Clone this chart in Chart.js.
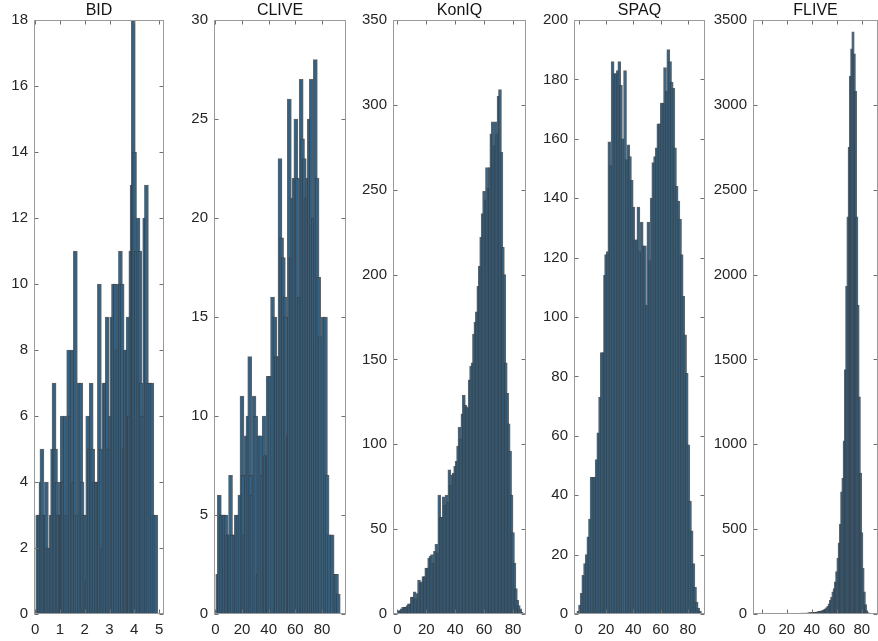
<!DOCTYPE html>
<html>
<head>
<meta charset="utf-8">
<script src="https://cdn.jsdelivr.net/npm/chart.js@4"></script>
<style>
  html, body { margin: 0; padding: 0; background: #fff; }
  #wrap { position: relative; width: 878px; height: 641px; overflow: hidden; }
  canvas { position: absolute; top: 0; }
</style>
</head>
<body>
<div id="wrap"></div>
<script>
// histogram data: bin centres + counts per dataset
const bidBins = [0.10,0.17,0.23,0.27,0.34,0.40,0.45,0.51,0.58,0.64,0.70,0.76,0.82,0.88,0.94,1.00,1.05,1.09,1.14,1.21,1.27,1.35,1.42,1.49,1.55,1.62,1.69,1.77,1.84,1.89,1.96,2.03,2.08,2.12,2.19,2.26,2.32,2.39,2.47,2.53,2.59,2.66,2.72,2.77,2.84,2.91,2.97,3.04,3.10,3.16,3.23,3.30,3.37,3.44,3.51,3.58,3.64,3.70,3.75,3.80,3.86,3.91,3.96,4.01,4.08,4.15,4.22,4.28,4.34,4.42,4.49,4.55,4.63,4.71,4.79,4.87];
const bidCounts = [3,3,4,5,3,3,4,2,2,3,5,7,5,4,3,3,4,6,4,6,3,8,6,8,4,11,3,7,7,4,3,3,1,6,5,7,5,4,4,4,10,5,2,7,7,9,5,6,9,10,10,8,10,11,10,5,8,8,9,6,11,13,18,14,11,12,11,7,6,12,13,7,7,7,3,3];

const cliveBins = [1.8,3.0,4.3,5.6,6.8,8.1,9.3,10.4,11.4,12.6,14.4,15.7,16.9,18.4,20.0,20.7,22.0,23.2,24.5,25.8,26.5,27.5,29.0,30.3,32.0,32.6,34.0,35.4,36.6,37.6,38.9,39.6,40.9,42.9,44.7,45.7,47.2,48.5,49.7,51.0,52.3,53.0,54.8,55.5,56.8,58.0,59.0,60.4,61.6,62.9,64.4,65.4,66.7,67.9,69.2,70.5,72.0,73.5,75.0,76.3,77.5,78.8,80.6,82.6,83.8,85.6,87.6,89.6,90.9,92.2];
const cliveCounts = [2,6,5,5,5,5,4,4,7,4,4,5,5,6,11,7,4,9,10,13,7,6,11,10,2,9,9,7,10,8,8,12,12,16,15,13,13,23,19,18,16,15,9,26,18,21,22,25,22,16,27,24,23,21,22,25,27,20,28,22,17,14,15,15,7,4,4,2,2,1];

const koniqBins = [1,2,3,4,5,6,7,8,9,10,11,12,13,14,15,16,17,18,19,20,21,22,23,24,25,26,27,28,29,30,31,32,33,34,35,36,37,38,39,40,41,42,43,44,45,46,47,48,49,50,51,52,53,54,55,56,57,58,59,60,61,62,63,64,65,66,67,68,69,70,71,72,73,74,75,76,77,78,79,80,81,82,83,84,85,86];
const koniqCounts = [2,2,3,4,4,4,5,6,6,10,10,13,9,12,20,18,19,22,22,27,27,33,34,35,30,37,41,36,70,57,57,69,64,70,66,85,76,82,83,87,90,99,110,103,118,129,123,122,121,138,146,148,165,172,178,193,205,222,236,249,244,263,251,263,283,290,276,290,283,305,309,272,216,200,148,130,112,96,70,48,30,15,8,5,3,1];

const spaqBins = [-0.3,0.9,2.1,3.3,4.6,5.8,7.0,8.2,9.4,10.7,11.9,13.1,14.3,15.6,16.8,18.0,19.2,20.0,21.2,22.4,23.6,24.8,26.1,27.3,28.5,29.7,30.9,32.2,33.9,35.1,36.3,37.5,38.8,40.0,41.2,42.4,43.7,44.9,46.1,47.3,48.5,49.8,51.0,52.2,53.4,54.6,55.9,57.1,58.3,59.5,60.8,62.0,63.2,64.4,65.6,66.9,68.1,69.3,70.5,71.7,73.0,74.2,75.4,76.6,77.9,79.1,80.3,81.5,82.7,84.0,85.2,86.4,87.6,88.8];
const spaqCounts = [1,3,7,13,17,20,26,32,46,46,46,52,61,73,88,88,114,121,122,159,151,186,182,182,183,186,178,160,183,153,158,154,146,137,126,126,137,122,132,124,124,104,132,119,140,152,154,157,165,165,172,172,184,176,190,186,179,177,157,144,139,133,121,107,94,81,57,38,28,17,9,4,2,1];

const fliveBins = [0,1,2,3,4,5,6,7,8,9,10,11,12,13,14,15,16,17,18,19,20,21,22,23,24,25,26,27,28,29,30,31,32,33,34,35,36,37,38,39,40,41,42,43,44,45,46,47,48,49,50,51,52,53,54,55,56,57,58,59,60,61,62,63,64,65,66,67,68,69,70,71,72,73,74,75,76,77,78,79,80,81,82,83,84,85,86,87,88];
const fliveCounts = [2,2,2,2,2,2,2,2,2,2,2,3,3,3,3,3,3,3,3,3,3,3,3,3,3,3,4,4,4,4,4,5,5,5,5,5,6,7,8,9,10,10,10,11,12,14,15,17,19,22,26,30,38,45,60,80,100,130,150,190,250,330,420,530,720,800,1020,1440,1930,2340,2750,3170,3330,3430,3300,3080,2340,1820,1280,830,480,270,130,55,20,8,4,2,1];

// tick labels
const bidXTicks = [0,1,2,3,4,5];
const mosXTicks = [0,20,40,60,80];
const bidYTicks = [0,2,4,6,8,10,12,14,16,18];
const cliveYTicks = [0,5,10,15,20,25,30];
const koniqYTicks = [0,50,100,150,200,250,300,350];
const spaqYTicks = [0,20,40,60,80,100,120,140,160,180,200];
const fliveYTicks = [0,500,1000,1500,2000,2500,3000,3500];

const FONT = '"Liberation Sans", Arial, Helvetica, sans-serif';
const TXT = '#262626';
const YW = 50;

const panels = [
  { title: 'BID',   bins: bidBins,   counts: bidCounts,   xMin: -0.05, xMax: 5.2, xTicks: bidXTicks, yTicks: bidYTicks,   left: 34,  right: 164, bar: 4 },
  { title: 'CLIVE', bins: cliveBins, counts: cliveCounts, xMin: -1,  xMax: 98,  xTicks: mosXTicks, yTicks: cliveYTicks, left: 214, right: 346, bar: 4 },
  { title: 'KonIQ', bins: koniqBins, counts: koniqCounts, xMin: -3,  xMax: 89,  xTicks: mosXTicks, yTicks: koniqYTicks, left: 393, right: 526, bar: 3 },
  { title: 'SPAQ',  bins: spaqBins,  counts: spaqCounts,  xMin: -3.5, xMax: 92.5, xTicks: mosXTicks, yTicks: spaqYTicks, left: 574, right: 705, bar: 3 },
  { title: 'FLIVE', bins: fliveBins, counts: fliveCounts, xMin: -7,  xMax: 93,  xTicks: mosXTicks, yTicks: fliveYTicks, left: 753, right: 878, bar: 2.5 }
];

// matlab-ish box with inward ticks + title centred on the plot box
const boxPlugin = {
  id: 'box',
  afterDatasetsDraw(chart, args, opts) {
    const { ctx, chartArea: a, scales } = chart;
    const L = Math.round(a.left) + 0.5, R = Math.round(a.right) - 0.5;
    const T = Math.round(a.top) + 0.5, B = Math.round(a.bottom) - 0.5;
    ctx.save();
    ctx.lineWidth = 1;
    ctx.strokeStyle = '#6e6e6e';
    ctx.beginPath();
    opts.yTicks.forEach(v => {
      const py = Math.round(scales.y.getPixelForValue(v)) + 0.5;
      ctx.moveTo(L, py); ctx.lineTo(L + 4, py);
      ctx.moveTo(R, py); ctx.lineTo(R - 4, py);
    });
    opts.xTicks.forEach(v => {
      const px = Math.round(scales.x.getPixelForValue(v)) + 0.5;
      ctx.moveTo(px, B); ctx.lineTo(px, B - 4);
      ctx.moveTo(px, T); ctx.lineTo(px, T + 4);
    });
    ctx.stroke();
    ctx.strokeStyle = '#9a9a9a';
    ctx.strokeRect(L, T, R - L, B - T);
    ctx.fillStyle = '#141414';
    ctx.font = '16px ' + FONT;
    ctx.textAlign = 'center';
    ctx.textBaseline = 'middle';
    ctx.fillText(opts.title, (a.left + a.right) / 2, 11);
    ctx.restore();
  }
};

const wrap = document.getElementById('wrap');

panels.forEach(p => {
  const cv = document.createElement('canvas');
  const w = p.right - p.left + YW;
  cv.width = w; cv.height = 641;
  cv.style.left = (p.left - YW) + 'px';
  cv.style.width = w + 'px'; cv.style.height = '641px';
  wrap.appendChild(cv);

  const yMax = p.yTicks[p.yTicks.length - 1];
  new Chart(cv, {
    type: 'bar',
    data: {
      datasets: [{
        data: p.bins.map((b, i) => ({ x: b, y: p.counts[i] })),
        backgroundColor: '#336183',
        borderColor: 'rgba(58,62,66,0.8)',
        borderWidth: 1,
        borderSkipped: 'start',
        barThickness: p.bar
      }]
    },
    options: {
      responsive: false,
      devicePixelRatio: 1,
      animation: false,
      events: [],
      layout: { padding: { top: 20, right: 0, bottom: 0, left: 0 } },
      plugins: {
        legend: { display: false },
        tooltip: { enabled: false },
        box: { title: p.title, xTicks: p.xTicks, yTicks: p.yTicks }
      },
      scales: {
        x: {
          type: 'linear', min: p.xMin, max: p.xMax, offset: false,
          grid: { display: false, drawTicks: false }, border: { display: false },
          ticks: { font: { family: FONT, size: 15 }, color: TXT, padding: 7, maxRotation: 0, autoSkip: false, callback: v => String(v) },
          afterBuildTicks: s => { s.ticks = p.xTicks.map(v => ({ value: v })); },
          afterFit: s => { s.height = 27; s.paddingLeft = 0; s.paddingRight = 0; }
        },
        y: {
          type: 'linear', min: 0, max: yMax,
          grid: { display: false, drawTicks: false }, border: { display: false },
          ticks: { font: { family: FONT, size: 15 }, color: TXT, padding: 6, autoSkip: false, callback: v => String(v) },
          afterBuildTicks: s => { s.ticks = p.yTicks.map(v => ({ value: v })); },
          afterFit: s => { s.width = YW; s.paddingTop = 0; s.paddingBottom = 0; }
        }
      }
    },
    plugins: [boxPlugin]
  });
});
</script>
</body>
</html>
